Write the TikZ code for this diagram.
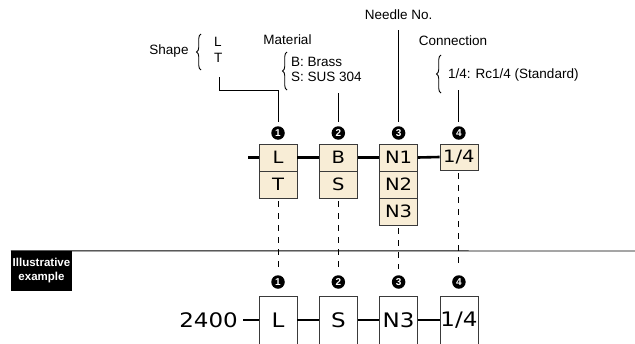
\documentclass[tikz,border=0pt]{standalone}
\usepackage{fontspec}
\setmainfont{Liberation Sans}
\newfontfamily\boxfont[FakeStretch=1.15]{DejaVu Sans}
\usetikzlibrary{decorations.pathreplacing}
\definecolor{beige}{HTML}{F8EDD6}
\definecolor{boxline}{HTML}{3A3A3A}
\tikzset{
  cell/.style={draw=boxline, fill=beige, minimum width=38pt, minimum height=27pt,
    inner sep=0pt, font=\boxfont\fontsize{17}{17}\selectfont},
  excell/.style={draw=boxline, fill=white, minimum width=38pt, minimum height=48pt,
    inner sep=0pt, font=\boxfont\fontsize{20}{20}\selectfont},
  num/.style={circle, fill=black, text=white, inner sep=0pt, minimum size=13.5pt,
    font=\bfseries\fontsize{10}{10}\selectfont},
  lbl/.style={inner sep=0pt, font=\fontsize{13.5}{15.5}\selectfont},
  chain/.style={line width=2.6pt},
  lead/.style={line width=0.9pt},
  guide/.style={line width=0.9pt, dash pattern=on 6pt off 6pt},
  curly/.style={decorate, decoration={brace, amplitude=4.5pt}, line width=0.9pt},
}

\begin{document}
\begin{tikzpicture}[x=1pt, y=-1pt]

  \newcommand\X{60.3}
  \clip (0,0) rectangle (635,343);

  % code boxes
  \node[cell] (shapeL) at (278+0*\X, 157.5) {L};
  \node[cell] (shapeT) at (278+0*\X, 184.5) {T};
  \node[cell] (matB) at (278+1*\X, 157.5) {B};
  \node[cell] (matS) at (278+1*\X, 184.5) {S};
  \node[cell] (needleA) at (278+2*\X, 157.5) {N1};
  \node[cell] (needleB) at (278+2*\X, 184.5) {N2};
  \node[cell] (needleC) at (278+2*\X, 211.5) {N3};
  \node[cell, minimum height=26pt] (conn) at (278+3*\X, 157) {1/4};

  \coordinate (chainStart) at (248, 157.5);
  \draw[chain] (chainStart) -- (shapeL.west);
  \draw[chain] (shapeL.east) -- (matB.west);
  \draw[chain] (matB.east) -- (needleA.west);
  \draw[chain] (needleA.east) -- (conn.west);

  \node[num] (num1) at (278+0*\X, 133) {1};
  \node[num] (num2) at (278+1*\X, 133) {2};
  \node[num] (num3) at (278+2*\X, 133) {3};
  \node[num] (num4) at (278+3*\X, 133) {4};

  % labels
  \node[lbl] (shapeLbl) at (169, 51) {Shape};
  \draw[curly] (201, 70) -- (201, 34);
  \node[lbl, align=left, anchor=west] (shapeList) at (214, 50) {L\\T};
  \coordinate (shapeTail) at (219, 77);
  \coordinate (shapeBend) at (278, 90);
  \draw[lead, shorten >=4pt] (shapeTail) |- (shapeBend) -- (num1.north);

  \node[lbl] (matLbl) at (287.5, 40) {Material};
  \draw[curly] (287, 90) -- (287, 52);
  \node[lbl, align=left, anchor=west] (matList) at (291, 69.5) {B: Brass\\S: SUS 304};
  \coordinate (matTail) at (278+1*\X, 93);
  \draw[lead, shorten >=4pt] (matTail) -- (num2.north);

  \node[lbl] (needleLbl) at (278+2*\X, 15) {Needle No.};
  \draw[lead, shorten <=10pt, shorten >=4pt] (needleLbl.south) -- (num3.north);

  \node[lbl] (connLbl) at (453, 41) {Connection};
  \draw[curly] (441, 93) -- (441, 55);
  \node[lbl, anchor=west] (connList) at (448, 75) {1/4: Rc1/4 (Standard)};
  \coordinate (connTail) at (278+3*\X, 90);
  \draw[lead, shorten >=4pt] (connTail) -- (num4.north);

  % example
  \node[fill=black, text=white, minimum width=61pt, minimum height=40pt, inner sep=0pt,
    align=center, font=\bfseries\fontsize{11.5}{14}\selectfont] (exLbl) at (41.5, 271)
    {Illustrative\\example};
  \coordinate (rightEdge) at (635, 251);
  \draw[line width=0.9pt] (exLbl.north west) -- (rightEdge);

  \node[num] (exNum1) at (278+0*\X, 282) {1};
  \node[num] (exNum2) at (278+1*\X, 282) {2};
  \node[num] (exNum3) at (278+2*\X, 282) {3};
  \node[num] (exNum4) at (278+3*\X, 282) {4};

  \draw[guide, shorten <=3pt, shorten >=6pt] (shapeT.south) -- (exNum1.north);
  \draw[guide, shorten <=3pt, shorten >=6pt] (matS.south) -- (exNum2.north);
  \draw[guide, shorten <=3pt, shorten >=6pt] (needleC.south) -- (exNum3.north);
  \draw[guide, shorten <=3pt, shorten >=6pt] (conn.south) -- (exNum4.north);

  \node[excell] (exShape) at (278+0*\X, 320) {L};
  \node[excell] (exMat) at (278+1*\X, 320) {S};
  \node[excell] (exNeedle) at (278+2*\X, 320) {N3};
  \node[excell] (exConn) at (278+3*\X, 320) {1/4};
  \node[inner sep=0pt, anchor=east, font=\boxfont\fontsize{20}{20}\selectfont]
    (exBase) at (238, 320) {2400};

  \draw[chain, shorten <=5pt] (exBase.east) -- (exShape.west);
  \draw[chain] (exShape.east) -- (exMat.west);
  \draw[chain] (exMat.east) -- (exNeedle.west);
  \draw[chain] (exNeedle.east) -- (exConn.west);

\end{tikzpicture}
\end{document}
